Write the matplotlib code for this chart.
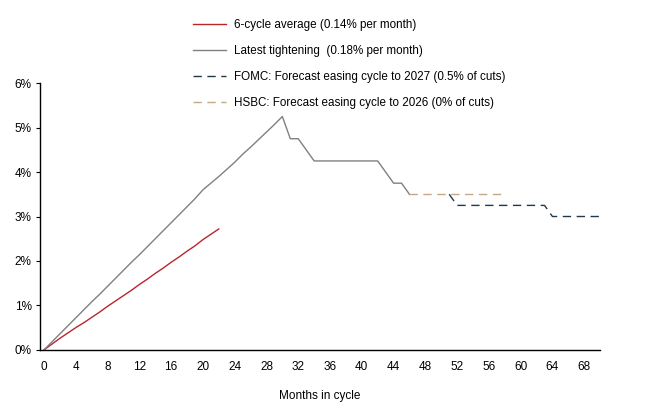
import numpy as np
import matplotlib.pyplot as plt
from matplotlib.ticker import FuncFormatter

plt.rcParams['font.family'] = ['Liberation Sans', 'DejaVu Sans']

# months in cycle and cumulative rate change (%)
avg_months = list(range(0, 23))
avg_rate = [0, 0.13, 0.26, 0.38, 0.5, 0.61, 0.73, 0.85, 0.98, 1.1, 1.22, 1.34,
            1.47, 1.59, 1.72, 1.84, 1.97, 2.09, 2.22, 2.34, 2.48, 2.6, 2.72]

latest_months = list(range(0, 47))
latest_rate = [0, 0.18, 0.36, 0.54, 0.72, 0.9, 1.08, 1.25, 1.43, 1.61, 1.79,
               1.97, 2.14, 2.32, 2.5, 2.68, 2.86, 3.04, 3.22, 3.4, 3.6, 3.75,
               3.9, 4.06, 4.22, 4.4, 4.56, 4.73, 4.9, 5.07, 5.25, 4.75, 4.75,
               4.5, 4.25, 4.25, 4.25, 4.25, 4.25, 4.25, 4.25, 4.25, 4.25, 4.0,
               3.75, 3.75, 3.5]

fomc_months = [51, 52, 63, 64, 70]
fomc_rate = [3.5, 3.25, 3.25, 3.0, 3.0]

hsbc_months = [46, 58]
hsbc_rate = [3.5, 3.5]

labels = ['6-cycle average (0.14% per month)',
          'Latest tightening  (0.18% per month)',
          'FOMC: Forecast easing cycle to 2027 (0.5% of cuts)',
          'HSBC: Forecast easing cycle to 2026 (0% of cuts)']

fig = plt.figure(figsize=(6.46, 4.20), dpi=100)
ax = fig.add_axes([0.062, 0.167, 0.867, 0.635])

l1, = ax.plot(avg_months, avg_rate, color='#B8262B', lw=1.0)
l2, = ax.plot(latest_months, latest_rate, color='#808080', lw=1.0)
l3, = ax.plot(fomc_months, fomc_rate, color='#1F3A4D', lw=1.0, dashes=(6, 4))
l4, = ax.plot(hsbc_months, hsbc_rate, color='#C4A888', lw=1.0, dashes=(6, 4))

ax.set_xlim(-0.5, 70)
ax.set_ylim(0, 6)
ax.set_xticks(np.arange(0, 69, 4))
ax.set_yticks(np.arange(0, 7, 1))
ax.yaxis.set_major_formatter(FuncFormatter(lambda v, p: f'{v:.0f}%'))
ax.tick_params(axis='x', length=0, pad=8, labelsize=8.5)
ax.tick_params(axis='y', length=3, direction='out', labelsize=8.5, pad=3)
ax.spines['top'].set_visible(False)
ax.spines['right'].set_visible(False)
ax.spines['left'].set_linewidth(1.0)
ax.spines['bottom'].set_linewidth(1.0)
ax.set_xlabel('Months in cycle', fontsize=8.5, labelpad=12)

fig.legend([l1, l2, l3, l4], labels, loc='upper left',
           bbox_to_anchor=(0.283, 0.98), frameon=False, fontsize=8.4,
           handlelength=2.8, handletextpad=0.7, labelspacing=1.2)

fig.savefig('out.png', dpi=100)
